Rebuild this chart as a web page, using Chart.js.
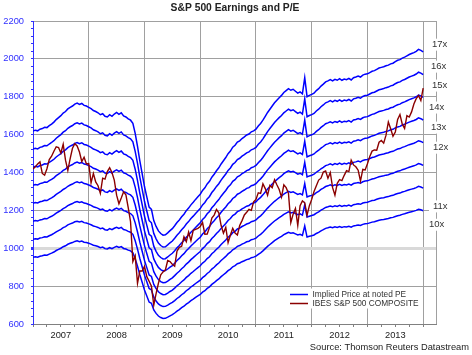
<!DOCTYPE html>
<html><head><meta charset="utf-8">
<script src="https://cdn.jsdelivr.net/npm/chart.js@4"></script>
<style>html,body{margin:0;padding:0;background:#fff;}canvas{display:block;}</style>
</head><body>
<canvas id="c" width="472" height="355"></canvas>
<script>
// ---- data ----
const startYear = 2007;
const periodsPerYear = 24; // semi-monthly readings
const peMultiples = [10, 11, 12, 13, 14, 15, 16, 17];
// forward earnings per share (implied price / PE)
const forwardEps = [
  95.2,95.5,95.3,95.8,96.0,96.4,96.3,96.9,97.4,98.0,98.8,99.4,100.0,100.8,101.3,102.1,102.6,103.0,103.6,103.9,103.5,103.8,103.2,103.0,
  102.6,102.2,101.6,101.3,100.9,100.3,100.6,99.8,99.6,100.3,99.8,100.5,101.0,100.4,100.9,99.9,99.6,99.0,98.6,97.6,94.5,90.5,86.0,82.0,
  78.0,74.8,71.6,70.9,67.4,65.6,64.2,63.4,62.9,63.0,63.6,64.3,64.9,65.8,66.8,67.6,68.6,69.4,70.5,71.3,72.3,73.1,74.0,74.8,
  75.6,76.8,77.6,78.8,79.6,80.9,81.8,82.9,83.8,85.0,86.0,87.0,88.2,89.0,90.2,90.8,91.8,92.2,92.9,93.4,94.0,94.3,95.0,95.3,
  95.8,96.8,97.6,98.6,99.8,101.0,102.0,103.0,104.0,104.8,105.6,106.3,107.2,107.8,108.4,107.9,108.2,107.6,107.0,107.4,106.8,111.8,105.9,106.3,
  106.6,107.0,107.8,108.4,109.2,109.8,110.5,110.8,111.2,110.8,111.3,111.0,111.5,111.0,111.4,111.2,111.6,111.1,111.8,112.0,112.3,112.0,112.6,112.9,
  113.0,113.4,113.8,114.0,114.4,114.8,115.0,115.2,115.5,115.7,116.1,116.3,116.8,117.2,117.4,117.9,118.2,118.6,119.0,119.3,119.6,120.0,120.6,120.3,119.8
];
const ibesComposite = [
  1418,1430,1445,1456,1395,1386,1420,1468,1486,1512,1536,1532,1503,1549,1465,1411,1473,1528,1552,1540,1508,1458,1481,1445,
  1447,1345,1395,1350,1330,1290,1370,1365,1405,1425,1400,1360,1280,1235,1265,1298,1282,1215,1140,930,960,815,880,880,
  905,850,826,800,700,760,815,860,875,885,935,930,915,905,985,1005,1010,1060,1035,1085,1040,1095,1100,1105,
  1115,1136,1074,1075,1110,1159,1175,1205,1187,1120,1080,1110,1030,1070,1105,1080,1070,1120,1146,1176,1190,1205,1200,1245,
  1258,1293,1290,1340,1315,1280,1332,1320,1362,1335,1310,1270,1335,1320,1290,1135,1180,1210,1120,1225,1250,1240,1175,1225,
  1258,1300,1330,1360,1370,1402,1408,1370,1400,1320,1280,1343,1362,1357,1385,1410,1405,1465,1440,1430,1412,1355,1416,1413,
  1446,1485,1513,1519,1518,1560,1569,1555,1597,1667,1631,1592,1614,1680,1706,1655,1633,1700,1693,1720,1762,1790,1806,1780,1845
];
const yearLabels = ['2007','2008','2009','2010','2011','2012','2013'];
const yTickLabels = ['600','800','1000','1200','1400','1600','1800','2000','2200'];
const seriesNames = ['Implied Price at noted PE', 'IBES S&P 500 COMPOSITE'];
const titleText = 'S&P 500 Earnings and P/E';
const sourceText = 'Source: Thomson Reuters Datastream';

// ---- styling / placement (not data) ----
const FONT = '"Liberation Sans", Arial, sans-serif';
const BLUE = '#0000ff', RED = '#8b0000', AXIS_BLUE = '#3030ff', GRID = '#a0a0a0';
// label anchors for the PE annotations: [dx from plot right, value on y axis]
const peLabelPlace = {17:[-4,2075],16:[-5,1959],15:[-4,1859],14:[-7,1743],13:[-5,1637],12:[-3,1531],11:[-3,1221],10:[-7,1124]};

const xOf = i => startYear + i / periodsPerYear;
const toPoints = arr => arr.map((v, i) => ({x: xOf(i), y: v}));

const datasets = [{
  label: seriesNames[1], data: toPoints(ibesComposite),
  borderColor: RED, borderWidth: 1.4, pointRadius: 0, tension: 0
}];
peMultiples.forEach(pe => datasets.push({
  label: pe + 'x', data: toPoints(forwardEps.map(e => e * pe)),
  borderColor: BLUE, borderWidth: 1.5, pointRadius: 0, tension: 0
}));

const yMin = Number(yTickLabels[0]), yMax = Number(yTickLabels[yTickLabels.length - 1]);
const yMajor = Number(yTickLabels[1]) - yMin;

const decor = {
  id: 'decor',
  afterDraw(chart) {
    const {ctx, chartArea: a, scales: {y}} = chart;
    ctx.save();
    // right border
    ctx.strokeStyle = GRID; ctx.lineWidth = 1;
    ctx.beginPath(); ctx.moveTo(Math.round(a.right) + 0.5, a.top); ctx.lineTo(Math.round(a.right) + 0.5, a.bottom); ctx.stroke();
    // title
    ctx.fillStyle = '#222'; ctx.font = 'bold 10.3px ' + FONT;
    ctx.textAlign = 'center'; ctx.textBaseline = 'middle';
    ctx.fillText(titleText, 235, 8);
    // PE labels
    ctx.font = '9.5px ' + FONT; ctx.textAlign = 'left';
    peMultiples.forEach(pe => {
      const [dx, v] = peLabelPlace[pe];
      const tx = a.right + dx, ty = y.getPixelForValue(v);
      const t = pe + 'x', w = ctx.measureText(t).width;
      ctx.fillStyle = '#fff'; ctx.fillRect(tx - 4, ty - 6, w + 8, 12);
      ctx.fillStyle = '#333'; ctx.fillText(t, tx, ty);
    });
    // legend
    const lx = 290, ly = 294.5;
    ctx.fillStyle = '#fff'; ctx.fillRect(lx - 2, ly - 6, 128, 20);
    ctx.lineWidth = 1.5;
    ctx.strokeStyle = BLUE; ctx.beginPath(); ctx.moveTo(lx, ly); ctx.lineTo(lx + 18, ly); ctx.stroke();
    ctx.strokeStyle = RED; ctx.beginPath(); ctx.moveTo(lx, ly + 9); ctx.lineTo(lx + 18, ly + 9); ctx.stroke();
    ctx.fillStyle = '#333'; ctx.font = '8.3px ' + FONT; ctx.textAlign = 'left';
    ctx.fillText(seriesNames[0], lx + 22.5, ly);
    ctx.fillText(seriesNames[1], lx + 22.5, ly + 9);
    // source
    ctx.font = '9.3px ' + FONT; ctx.textAlign = 'right'; ctx.fillStyle = '#222';
    ctx.fillText(sourceText, 469, 347.8);
    ctx.restore();
  }
};

new Chart(document.getElementById('c'), {
  type: 'line',
  data: {datasets},
  options: {
    responsive: false, animation: false, devicePixelRatio: 1,
    layout: {padding: {left: 0, right: 36, top: 21, bottom: 0}},
    plugins: {legend: {display: false}, tooltip: {enabled: false}, title: {display: false}},
    scales: {
      x: {
        type: 'linear', min: startYear, max: startYear + 7.23,
        afterFit: s => { s.height = 31; },
        afterBuildTicks: s => {
          const t = [];
          for (let q = 0; q <= yearLabels.length * 4; q++) t.push({value: startYear + q / 4});
          s.ticks = t;
        },
        ticks: {
          autoSkip: false, maxRotation: 0, minRotation: 0, padding: 3,
          color: '#222', font: {family: FONT, size: 9.3},
          callback: v => {
            const f = v - Math.floor(v);
            return f === 0.5 ? yearLabels[Math.floor(v) - startYear] : '';
          }
        },
        grid: {
          color: c => Number.isInteger(c.tick.value) ? GRID : 'rgba(0,0,0,0)',
          tickColor: '#808080', tickLength: 3, lineWidth: 1
        },
        border: {color: '#808080', width: 1}
      },
      y: {
        type: 'linear', min: yMin, max: yMax,
        afterFit: s => { s.width = 33; },
        afterBuildTicks: s => {
          const t = [];
          for (let v = yMin; v <= yMax; v += yMajor / 5) t.push({value: v});
          s.ticks = t;
        },
        ticks: {
          autoSkip: false, padding: 7, color: AXIS_BLUE, font: {family: FONT, size: 9.3},
          callback: v => (v - yMin) % yMajor === 0 ? yTickLabels[(v - yMin) / yMajor] : ''
        },
        grid: {
          color: c => (c.tick.value - yMin) % yMajor !== 0 ? 'rgba(0,0,0,0)' : (c.tick.value === 1000 ? '#d9d9d9' : GRID),
          lineWidth: c => c.tick.value === 1000 ? 3 : 1,
          tickColor: AXIS_BLUE, tickLength: 2
        },
        border: {color: AXIS_BLUE, width: 1}
      }
    }
  },
  plugins: [decor]
});
</script>
</body></html>
